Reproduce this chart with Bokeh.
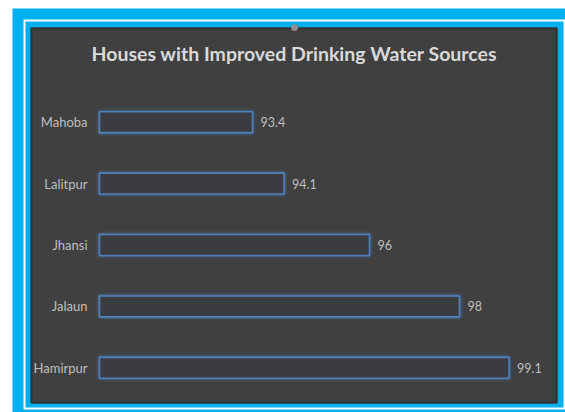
from bokeh.plotting import figure
from bokeh.models import Range1d, ColumnDataSource
from bokeh.core.properties import value
from bokeh.embed import file_html
from bokeh.resources import INLINE

# Data (top to bottom as shown)
districts = ["Mahoba", "Lalitpur", "Jhansi", "Jalaun", "Hamirpur"]
improved_pct = [93.4, 94.1, 96.0, 98.0, 99.1]
value_labels = ["93.4", "94.1", "96", "98", "99.1"]
title_text = "Houses with Improved Drinking Water Sources"

# Axis settings
AXIS_MIN, AXIS_MAX = 90, 100

# Canvas and plotting-area geometry (pixels)
W, H = 565, 412
PLOT_L, PLOT_R = 99, 549
PLOT_T, PLOT_B = 91, 398

px_per_unit = (PLOT_R - PLOT_L) / (AXIS_MAX - AXIS_MIN)
x_start = AXIS_MIN - PLOT_L / px_per_unit
x_end = AXIS_MAX + (W - PLOT_R) / px_per_unit

band = (PLOT_B - PLOT_T) / len(districts)
y_start = (H - PLOT_T) / band - 0.5   # bottom edge of canvas
y_end = -PLOT_T / band - 0.5          # top edge of canvas

CYAN = "#00b0f0"
PANEL = "#404040"
BAR_LINE = "#4f81bd"
TEXT = "#bfbfbf"

p = figure(width=W, height=H, output_backend="svg", toolbar_location=None,
           x_range=Range1d(x_start, x_end), y_range=Range1d(y_start, y_end),
           min_border=0, min_border_left=0, min_border_right=0,
           min_border_top=0, min_border_bottom=0,
           background_fill_color="white", border_fill_color="white",
           outline_line_color=None)
p.axis.visible = False
p.grid.visible = False
p.extra_x_ranges = {"px": Range1d(0, W)}
p.extra_y_ranges = {"px": Range1d(H, 0)}

# Frame: outer cyan band, white gap, inner cyan border, dark panel
def box(l, r, t, b, color):
    p.quad(left=l, right=r, top=t, bottom=b, fill_color=color, line_color=None,
           x_range_name="px", y_range_name="px")

box(12, W + 5, 8, H + 5, CYAN)
box(23, W + 5, 19, 409, "white")
box(25, 563, 21, 407, CYAN)
box(30, 557, 27, 403, PANEL)
p.quad(left=31, right=556, top=28, bottom=402, fill_color=None,
       line_color="#2e2e2e", line_width=2, line_alpha=0.8,
       x_range_name="px", y_range_name="px")
p.scatter(x=[294], y=[27], size=7, fill_color="#8c8c8c", line_color=None,
          x_range_name="px", y_range_name="px")

# Title
p.text(x=[294], y=[53], text=[title_text], text_font=value("Lato"),
       text_font_style="bold", text_font_size="19.5px", text_color="#d9d9d9",
       text_align="center", text_baseline="middle",
       x_range_name="px", y_range_name="px")

# Bars
src = ColumnDataSource(dict(
    y=list(range(len(districts))),
    right=improved_pct,
    left=[AXIS_MIN] * len(districts),
    cat=districts,
    lab=value_labels,
))

bar_h = 0.34
# soft glow around the bar outlines
for lw, a in [(9, 0.05), (6.5, 0.08), (4.5, 0.12), (3, 0.2)]:
    p.hbar(y="y", left="left", right="right", height=bar_h, source=src,
           fill_color=None, line_color=BAR_LINE, line_width=lw, line_alpha=a)
p.hbar(y="y", left="left", right="right", height=bar_h, source=src,
       fill_color="#3a3c40", fill_alpha=1.0,
       line_color=BAR_LINE, line_width=1.6)

# Category labels
p.text(x="left", y="y", text="cat", source=src, x_offset=-12,
       text_font=value("Lato"), text_font_size="13px", text_color=TEXT,
       text_align="right", text_baseline="middle")

# Value labels
p.text(x="right", y="y", text="lab", source=src, x_offset=8,
       text_font=value("Lato"), text_font_size="12.5px", text_color=TEXT,
       text_align="left", text_baseline="middle")

open("out.html", "w").write(file_html(p, INLINE))
